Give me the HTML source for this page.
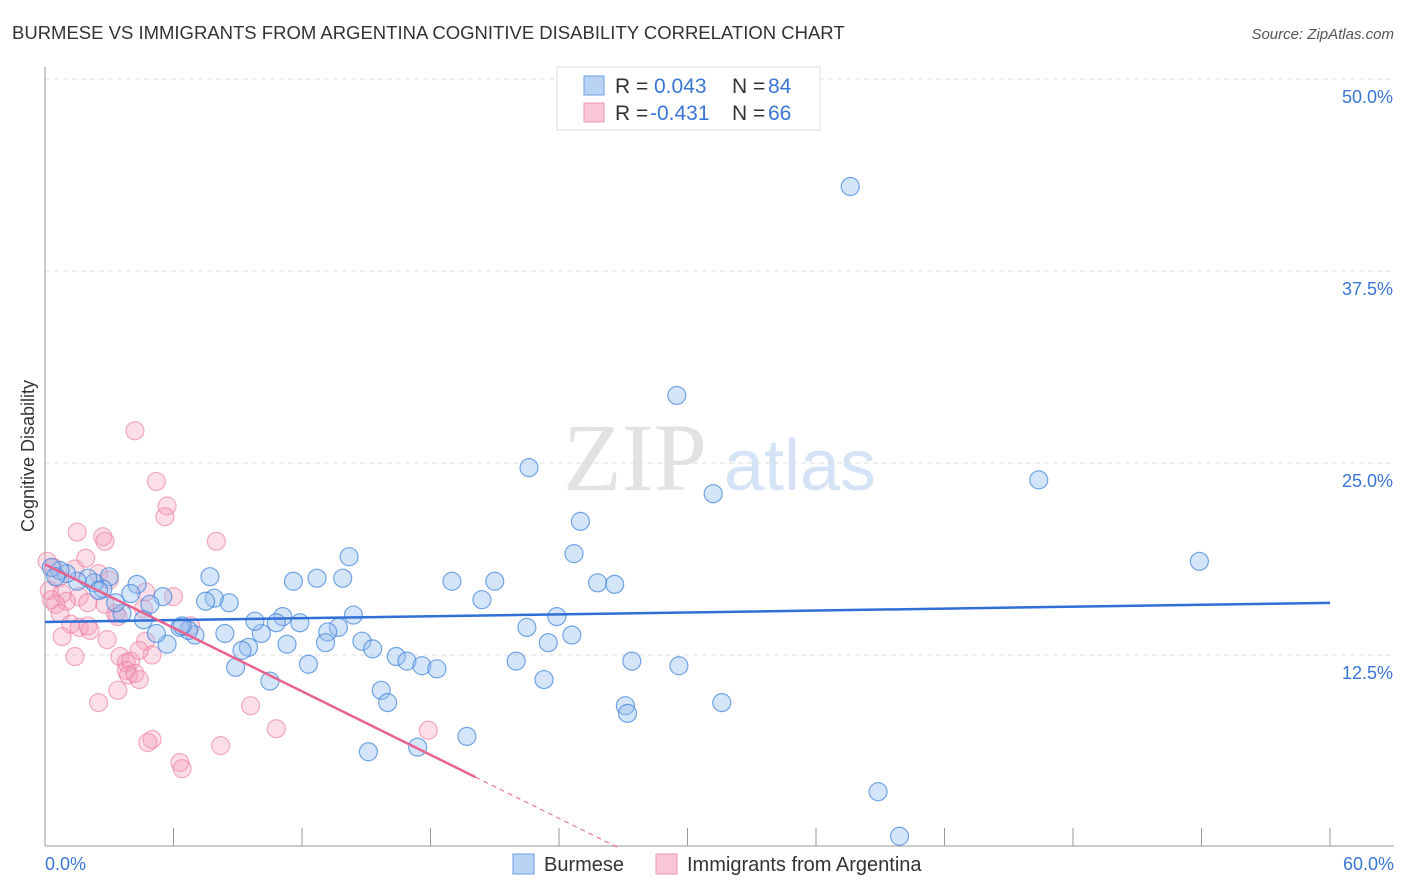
<!DOCTYPE html>
<html><head><meta charset="utf-8"><style>
body{margin:0;background:#fff;font-family:"Liberation Sans",sans-serif}
#wrap{position:relative;width:1406px;height:892px;overflow:hidden}
</style></head><body>
<div id="wrap">
<svg id="svg" width="1406" height="892" xmlns="http://www.w3.org/2000/svg">
<text x="12" y="39" font-size="18.5" fill="#333">BURMESE VS IMMIGRANTS FROM ARGENTINA COGNITIVE DISABILITY CORRELATION CHART</text>
<text x="1394" y="39" font-size="15" fill="#555" font-style="italic" text-anchor="end">Source: ZipAtlas.com</text>
<text x="34" y="456" font-size="18" fill="#333" text-anchor="middle" transform="rotate(-90 34 456)">Cognitive Disability</text>
<g>
<text x="635" y="490" font-size="96" font-family="Liberation Serif,serif" fill="#e2e2e2" text-anchor="middle">ZIP</text>
<text x="800" y="490" font-size="72" fill="#d4e3f5" text-anchor="middle">atlas</text>
</g>
<g id="grid"></g><g id="axes"></g><g id="pts"></g><g id="lines"></g>
<g>
<rect x="557" y="67" width="263" height="63" fill="#fff" stroke="#ddd"/>
<rect x="584" y="76" width="20" height="19" fill="#b9d3f5" stroke="#6d9ee0"/>
<text x="615" y="93" font-size="21" fill="#333">R = </text><text x="654" y="93" font-size="21" fill="#3a76d6">0.043</text>
<text x="732" y="93" font-size="21" fill="#333">N = </text><text x="768" y="93" font-size="21" fill="#3a76d6">84</text>
<rect x="584" y="103" width="20" height="19" fill="#f9c6d5" stroke="#ee94b0"/>
<text x="615" y="120" font-size="21" fill="#333">R = </text><text x="650" y="120" font-size="21" fill="#3a76d6">-0.431</text>
<text x="732" y="120" font-size="21" fill="#333">N = </text><text x="768" y="120" font-size="21" fill="#3a76d6">66</text>
</g>
<g>
<rect x="513" y="854" width="21" height="20" fill="#b9d3f5" stroke="#6d9ee0"/>
<text x="544" y="871" font-size="20" fill="#333">Burmese</text>
<rect x="656" y="854" width="21" height="20" fill="#f9c6d5" stroke="#ee94b0"/>
<text x="687" y="871" font-size="20" fill="#333">Immigrants from Argentina</text>
</g>
</svg>
</div>
<script>
const blueX=[37.6,29.5,22.6,31.2,46.4,53.9,25.0,24.7,25.8,26.6,19.0,21.0,20.4,23.9,22.5,23.5,24.6,22.0,23.3,27.4,29.6,27.1,27.2,31.6,19.7,17.4,15.1,38.9,39.9,14.2,13.9,12.7,11.6,14.4,13.7,13.2,13.1,14.8,15.3,16.4,16.9,17.6,18.3,15.7,16.0,12.3,11.3,11.9,11.1,10.8,10.1,9.8,9.5,9.2,8.9,10.5,8.4,8.6,7.9,7.5,7.7,7.0,6.7,6.3,6.4,5.7,5.2,5.5,4.9,4.6,4.3,4.0,3.6,3.3,3.0,2.7,2.3,2.0,1.5,1.0,0.7,0.3,0.5,2.5];
const blueY=[43.0,29.4,24.7,23.0,23.9,18.6,21.2,19.1,17.2,17.1,17.3,17.3,16.1,15.0,14.3,13.3,13.8,12.1,10.9,12.1,11.8,9.2,8.7,9.4,7.2,6.5,6.2,3.6,0.7,18.9,17.5,17.5,17.3,15.1,14.3,14.0,13.3,13.4,12.9,12.4,12.1,11.8,11.6,10.2,9.4,11.9,13.2,14.6,15.0,14.6,13.9,14.7,13.0,12.8,11.7,10.8,13.9,15.9,16.2,16.0,17.6,13.8,14.1,14.3,14.4,13.2,13.9,16.3,15.8,14.8,17.1,16.5,15.2,15.9,17.6,16.8,17.2,17.5,17.3,17.8,18.0,18.2,17.6,16.7];
const pinkX=[4.2,5.2,5.7,5.6,1.5,2.7,2.8,8.0,1.9,0.1,0.4,1.4,2.5,3.0,0.6,0.2,0.8,1.6,0.3,1.0,0.5,2.0,2.8,4.7,6.0,0.7,3.3,3.4,4.6,1.2,1.6,2.0,2.1,0.8,2.9,4.7,6.8,5.0,3.5,3.8,4.0,1.4,3.8,3.9,4.2,4.4,3.4,2.5,9.6,10.8,17.9,5.0,4.8,8.2,6.3,6.4,4.4];
const pinkY=[27.1,23.8,22.2,21.5,20.5,20.2,19.9,19.9,18.8,18.6,18.2,18.1,17.8,17.4,17.5,16.7,16.5,16.3,16.1,16.0,15.8,15.9,15.8,16.6,16.3,15.2,15.2,15.0,15.5,14.5,14.3,14.4,14.1,13.7,13.5,13.4,14.4,12.5,12.4,12.0,12.1,12.4,11.5,11.2,11.3,10.9,10.2,9.4,9.2,7.7,7.6,7.0,6.8,6.6,5.5,5.1,12.8];
const yTicks=[12.5,25.0,37.5,50.0];
const xTicks=[0,6,12,18,24,30,36,42,48,54,60];
const trendBlue=[14.65,0.0207];
const trendPink=[18.4,-0.689];
const NS="http://www.w3.org/2000/svg";
const sx=v=>45+v*1285/60, sy=v=>847-v*15.36;
function mk(tag,attrs,parent){const e=document.createElementNS(NS,tag);for(const k in attrs)e.setAttribute(k,attrs[k]);document.getElementById(parent).appendChild(e);return e;}
yTicks.forEach(t=>{
 const l=mk('line',{x1:45,x2:1394,y1:sy(t),y2:sy(t),stroke:'#ddd','stroke-dasharray':'5,4'},'grid');
 
 
 const tx=mk('text',{x:1393,y:sy(t)+24,'font-size':18,fill:'#3a76d6','text-anchor':'end'},'grid');
 tx.textContent=t.toFixed(1)+'%';
 
 
});
const ax=mk('line',{x1:45,x2:45,y1:67,y2:846,stroke:'#999'},'axes');


const bx=mk('line',{x1:45,x2:1394,y1:846,y2:846,stroke:'#999'},'axes');


xTicks.forEach(t=>{
 const l=mk('line',{x1:sx(t),x2:sx(t),y1:828,y2:846,stroke:'#999'},'axes');
 
 
});
[[0,'start'],[60,'end']].forEach(([t,a])=>{
 const tx=mk('text',{x:t===0?45:1394,y:870,'font-size':18,fill:'#3a76d6','text-anchor':a},'axes');
 tx.textContent=t.toFixed(1)+'%';
 
 
});
pinkX.forEach((x,i)=>{
 const c=mk('circle',{cx:sx(x),cy:sy(pinkY[i]),r:9,fill:'rgba(244,160,186,0.35)',stroke:'rgba(236,120,155,0.6)','stroke-width':1.2},'pts');
 
 
});
blueX.forEach((x,i)=>{
 const c=mk('circle',{cx:sx(x),cy:sy(blueY[i]),r:9,fill:'rgba(150,190,240,0.4)',stroke:'rgba(60,130,220,0.7)','stroke-width':1.2},'pts');
 
 
});
const f=(tr,x)=>tr[0]+tr[1]*x;
const lb=mk('line',{x1:sx(0),y1:sy(f(trendBlue,0)),x2:sx(60),y2:sy(f(trendBlue,60)),stroke:'#2f6fd6','stroke-width':2.5},'lines');


const lp=mk('line',{x1:sx(0),y1:sy(f(trendPink,0)),x2:sx(20.1),y2:sy(f(trendPink,20.1)),stroke:'#e8628f','stroke-width':2.5},'lines');


const x0=-trendPink[0]/trendPink[1];
const ld=mk('line',{x1:sx(20.1),y1:sy(f(trendPink,20.1)),x2:sx(x0),y2:sy(0),stroke:'#e8628f','stroke-width':1,'stroke-dasharray':'5,4'},'lines');


</script>
</body></html>
